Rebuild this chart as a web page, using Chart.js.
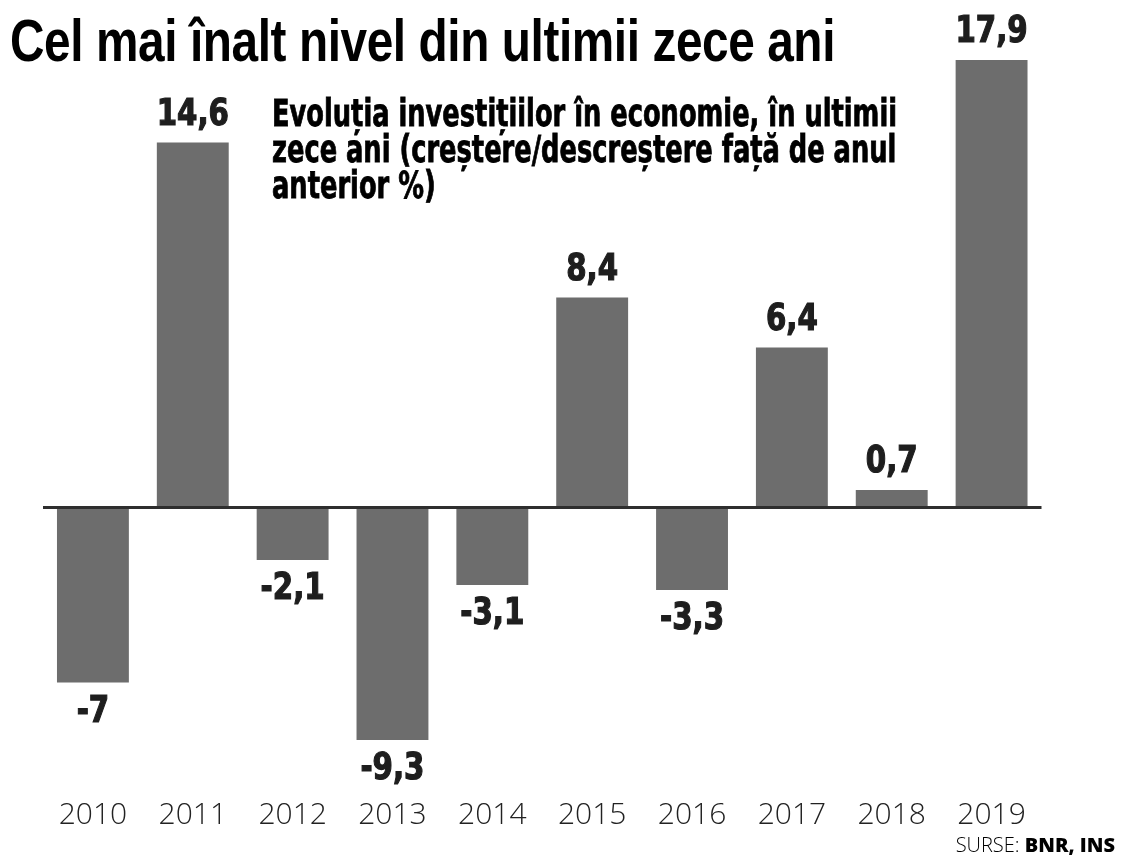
<!DOCTYPE html>
<html>
<head>
<meta charset="utf-8">
<script src="https://cdn.jsdelivr.net/npm/chart.js@4.4.0/dist/chart.umd.min.js"></script>
<style>
  html, body { margin: 0; padding: 0; background: #fff; }
  #wrap { position: relative; width: 1125px; height: 859px; overflow: hidden; }
  #title {
    position: absolute; left: 10px; top: 7px; margin: 0;
    font: bold 59px "Liberation Sans", Arial, sans-serif; color: #000;
    white-space: nowrap; transform-origin: 0 0; letter-spacing: -0.5px;
  }
  #subtitle {
    position: absolute; left: 272px; top: 96px; margin: 0;
    font: bold 37px "DejaVu Sans Condensed", "DejaVu Sans", sans-serif; color: #000;
    line-height: 36px; white-space: nowrap; transform-origin: 0 0;
    -webkit-text-stroke: 0.8px #000;
  }
  #source {
    position: absolute; right: 10px; top: 831px; margin: 0;
    font: 300 20px "Open Sans", sans-serif; color: #000; white-space: nowrap;
  }
  #source b { font-weight: 800; }
</style>
</head>
<body>
<div id="wrap">
  <canvas id="chrInvest" width="1125" height="859"></canvas>
  <div id="title">Cel mai înalt nivel din ultimii zece ani</div>
  <div id="subtitle">Evoluția investițiilor în economie, în ultimii<br>zece ani (creștere/descreștere față de anul<br>anterior %)</div>
  <div id="source">SURSE: <b>BNR, INS</b></div>
</div>
<script>
// date grafic
var years = ["2010","2011","2012","2013","2014","2015","2016","2017","2018","2019"];
var growth = [-7, 14.6, -2.1, -9.3, -3.1, 8.4, -3.3, 6.4, 0.7, 17.9];

// fit titles to their width in the picture
fitWidth = (id, w) => {
  var el = document.getElementById(id);
  var s = w / el.getBoundingClientRect().width;
  el.style.transform = 'scaleX(' + s + ')';
};
fitWidth('title', 825);
fitWidth('subtitle', 625);

// zero line + value labels
var barExtras = {
  id: 'barExtras',
  afterDatasetsDraw: (chart) => {
    var ctx = chart.ctx;
    var area = chart.chartArea;
    var y0 = chart.scales.y.getPixelForValue(0);
    ctx.save();
    ctx.strokeStyle = '#2e2e2e';
    ctx.lineWidth = 3;
    ctx.beginPath();
    ctx.moveTo(area.left, y0);
    ctx.lineTo(area.right, y0);
    ctx.stroke();

    ctx.fillStyle = '#1e1e1e';
    ctx.strokeStyle = '#1e1e1e';
    ctx.lineWidth = 1.2;
    ctx.font = 'bold 37px "DejaVu Sans Condensed", "DejaVu Sans", sans-serif';
    ctx.textAlign = 'center';
    ctx.textBaseline = 'alphabetic';
    var sx = 0.88; // condensed look
    chart.getDatasetMeta(0).data.forEach((bar, i) => {
      var v = growth[i];
      var txt = String(v).replace('.', ',');
      var y = v >= 0 ? bar.y - 18 : bar.y + 39;
      ctx.save();
      ctx.translate(bar.x, y);
      ctx.scale(sx, 1);
      ctx.fillText(txt, 0, 0);
      ctx.strokeText(txt, 0, 0);
      ctx.restore();
    });
    ctx.restore();
  }
};

var ctxInvest = document.getElementById('chrInvest').getContext('2d');
var chrInvest = new Chart(ctxInvest, {
  type: 'bar',
  data: {
    labels: years,
    datasets: [{
      label: 'investitii',
      data: growth,
      backgroundColor: '#6d6d6d',
      borderWidth: 0,
      barPercentage: 0.72,
      categoryPercentage: 1.0
    }]
  },
  options: {
    responsive: false,
    animation: false,
    layout: { padding: { left: 43, right: 83.5, top: 57.5, bottom: 11.5 } },
    plugins: {
      legend: { display: false },
      tooltip: { enabled: false }
    },
    scales: {
      x: {
        grid: { display: false, drawTicks: false },
        border: { display: false },
        afterFit: (s) => { s.height = 90; },
        ticks: {
          padding: 40,
          color: '#222',
          font: { family: 'Open Sans', weight: 300, size: 30 }
        }
      },
      y: {
        display: false,
        min: -10,
        max: 18
      }
    }
  },
  plugins: [barExtras]
});
</script>
</body>
</html>
